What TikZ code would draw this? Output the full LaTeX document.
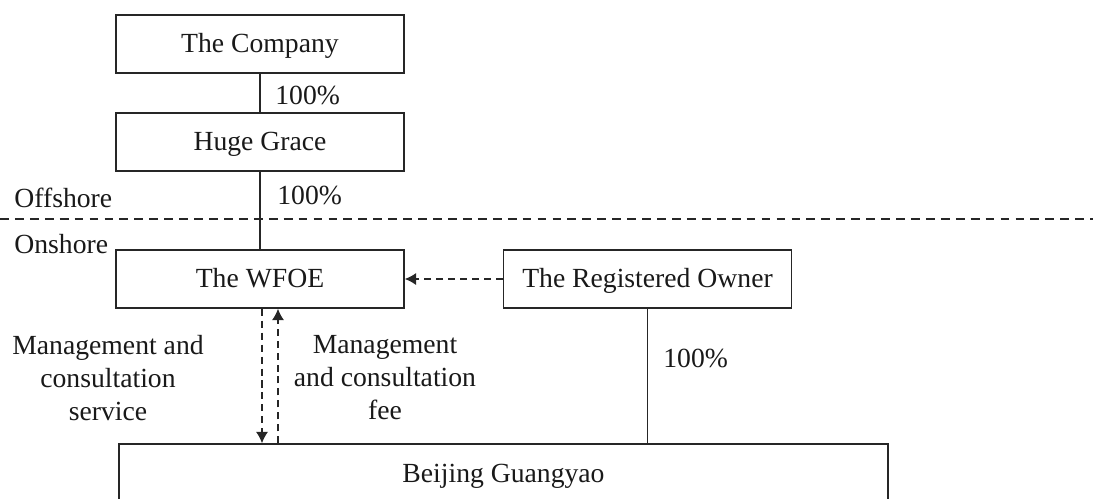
\documentclass[tikz,border=0pt]{standalone}
\usepackage{fontspec}
\setmainfont{Liberation Serif}
\usetikzlibrary{arrows.meta, calc}
\tikzset{
    >={Latex[length=6.5pt, width=7pt]},
    entity/.style={draw=black!85, line width=0.9pt, minimum width=5.76cm, minimum height=1.16cm, inner sep=0pt, text height=11pt, text depth=1pt},
    owns/.style={draw=black!85, line width=0.8pt},
    flow/.style={->, draw=black!85, line width=0.8pt, dash pattern=on 4pt off 2.8pt},
    border/.style={draw=black!85, line width=0.8pt, dash pattern=on 5pt off 3.5pt},
    share/.style={anchor=west, inner sep=0pt},
    zone/.style={anchor=base west, inner sep=0pt},
    note/.style={align=center, inner sep=0pt},
}

\begin{document}
\begin{tikzpicture}[x=0.02cm, y=-0.02cm, font=\fontsize{15.75}{18.8}\selectfont, text=black!90]
    \useasboundingbox (0,0) rectangle (1093,498);
    \node[entity] (company) at (260,44) {The Company};
    \node[entity] (huge_grace) at (260,142) {Huge Grace};
    \node[entity] (wfoe) at (260,279) {The WFOE};
    \node[entity] (owner) at (647.5,279) {The Registered Owner};
    \node[entity, minimum width=15.38cm, minimum height=1.2cm] (beijing) at (503.5,474) {Beijing Guangyao};
    \draw[border] (0,219) -- (1093,219);
    \node[zone] (offshore) at (14,207) {Offshore};
    \node[zone] (onshore) at (14,253) {Onshore};
    \draw[owns] (company) -- (huge_grace);
    \draw[owns] (huge_grace) -- (wfoe);
    \draw[owns] (owner.south) -- (owner.south |- beijing.north);
    \node[share] (pct_huge) at (275,95) {100\%};
    \node[share] (pct_wfoe) at (277,195) {100\%};
    \node[share] (pct_beijing) at (663,358) {100\%};
    \draw[flow] (owner.west) -- (wfoe.east);
    \draw[flow] ($(wfoe.south)+(2,0)$) -- ($(wfoe.south |- beijing.north)+(2,0)$);
    \draw[flow] ($(wfoe.south |- beijing.north)+(18,0)$) -- ($(wfoe.south)+(18,0)$);
    \node[note] (service) at (108,378) {Management and\\consultation\\service};
    \node[note] (fee) at (385,378) {Management\\and consultation\\fee};
\end{tikzpicture}
\end{document}
